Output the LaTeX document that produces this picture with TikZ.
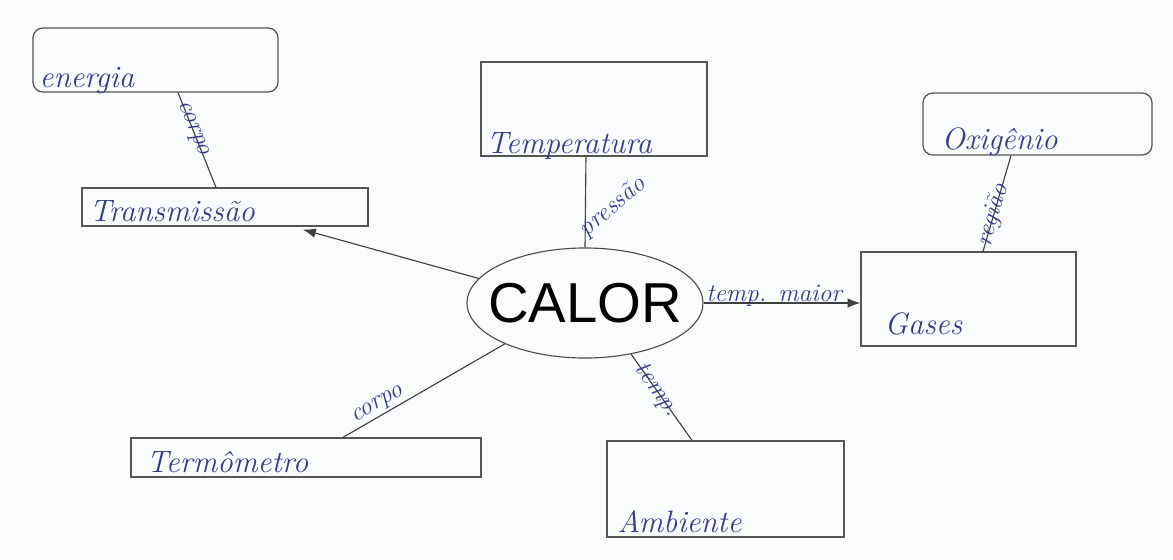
\documentclass[tikz,border=0pt]{standalone}
\usepackage{fontspec}
\newfontfamily\calorfont{Liberation Sans}
\usetikzlibrary{calc,arrows.meta,shapes.geometric}
\definecolor{inkblue}{RGB}{52,60,140}
\definecolor{pencilgray}{RGB}{85,85,85}
\definecolor{paper}{RGB}{250,251,253}
\tikzset{
    % Concept boxes
    cbox/.style={draw=pencilgray, line width=0.9pt, inner sep=0pt},
    roundbox/.style={cbox, rounded corners=7pt},
    % Central concept (ellipse)
    mainnode/.style={
        ellipse, draw=black!70, line width=0.8pt,
        minimum width=5.9cm, minimum height=2.75cm, inner sep=0pt,
        font=\calorfont\fontsize{40}{44}\selectfont
    },
    % Handwritten texts
    hand/.style={text=inkblue, font=\itshape\fontsize{22}{24}\selectfont, inner sep=0pt},
    linkhand/.style={text=inkblue, font=\itshape\fontsize{18}{20}\selectfont, inner sep=1pt},
    % Connectors
    link/.style={draw=black!75, line width=0.8pt},
    arrowlink/.style={link, -{Latex[length=3.2mm, width=2.4mm]}},
}

\begin{document}
\begin{tikzpicture}[x=0.025cm, y=-0.025cm]
  \fill[paper] (0,0) rectangle (1173,560);
  \useasboundingbox (0,0) rectangle (1173,560);

  % boxes
  \node[roundbox, minimum width=6.125cm, minimum height=1.6cm] (energia) at (155.5,60) {};
  \node[cbox, minimum width=7.15cm, minimum height=0.95cm] (transm) at (225,207) {};
  \node[cbox, minimum width=5.65cm, minimum height=2.35cm] (temper) at (594,109) {};
  \node[roundbox, minimum width=5.725cm, minimum height=1.55cm] (oxig) at (1037.5,124) {};
  \node[cbox, minimum width=5.375cm, minimum height=2.35cm] (gases) at (968.5,299) {};
  \node[cbox, minimum width=8.75cm, minimum height=0.975cm] (termo) at (306,457.5) {};
  \node[cbox, minimum width=5.925cm, minimum height=2.4cm] (ambiente) at (725.5,489) {};
  \node[mainnode] (calor) at (585,303) {\makebox[0pt]{CALOR}};

  % texts in the boxes
  \node[hand, anchor=base west] (energiaT) at ($(energia.south west)+(7,-5)$) {energia};
  \node[hand, anchor=base west] (transmT) at ($(transm.south west)+(8,-5)$) {Transmissão};
  \node[hand, anchor=base west] (temperT) at ($(temper.south west)+(6,-3)$) {Temperatura};
  \node[hand, anchor=base west] (oxigT) at ($(oxig.south west)+(19,-6)$) {Oxigênio};
  \node[hand, anchor=base west] (gasesT) at ($(gases.south west)+(24,-12)$) {Gases};
  \node[hand, anchor=base west] (termoT) at ($(termo.south west)+(16,-5)$) {Termômetro};
  \node[hand, anchor=base west] (ambienteT) at ($(ambiente.south west)+(11,-5)$) {Ambiente};

  % connectors
  \draw[link] ($(energia.south)+(22.5,0)$) -- ($(transm.north)+(-9,0)$)
      node[linkhand, sloped, pos=0.38] (corpoA) {corpo};
  \draw[link] ($(temper.south)+(-8,0)$) -- (calor.north)
      node[linkhand, rotate=40, anchor=base west, pos=0.9] (pressao) {pressão};
  \draw[link] ($(oxig.south)+(-26.5,0)$) -- ($(gases.north)+(14.5,0)$)
      node[linkhand, sloped, pos=0.62] (regiao) {região};
  \draw[arrowlink] (calor.167) -- ($(transm.south)+(78,3)$);
  \draw[arrowlink] (calor.east) -- (calor.east -| gases.west)
      node[linkhand, anchor=base, pos=0.45, yshift=1pt] (tempmaior) {temp. maior};
  \draw[link] (calor.207) -- ($(termo.north)+(37,0)$)
      node[linkhand, sloped, above, pos=0.75] (corpoB) {corpo};
  \draw[link] (calor.312) -- ($(ambiente.north)+(-33.5,0)$)
      node[linkhand, sloped, pos=0.42] (temp) {temp.};
\end{tikzpicture}
\end{document}
